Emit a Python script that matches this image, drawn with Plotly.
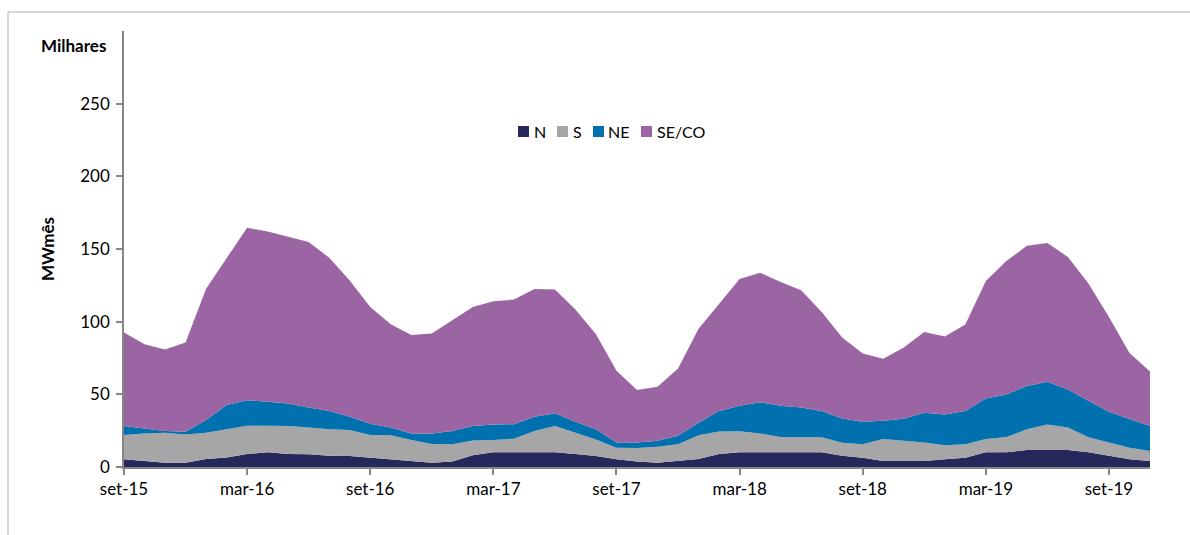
import plotly.graph_objects as go

# Monthly labels, set-15 .. nov-19
months = [
    "set-15", "out-15", "nov-15", "dez-15",
    "jan-16", "fev-16", "mar-16", "abr-16", "mai-16", "jun-16",
    "jul-16", "ago-16", "set-16", "out-16", "nov-16", "dez-16",
    "jan-17", "fev-17", "mar-17", "abr-17", "mai-17", "jun-17",
    "jul-17", "ago-17", "set-17", "out-17", "nov-17", "dez-17",
    "jan-18", "fev-18", "mar-18", "abr-18", "mai-18", "jun-18",
    "jul-18", "ago-18", "set-18", "out-18", "nov-18", "dez-18",
    "jan-19", "fev-19", "mar-19", "abr-19", "mai-19", "jun-19",
    "jul-19", "ago-19", "set-19", "out-19", "nov-19",
]
tick_labels = ["set-15", "mar-16", "set-16", "mar-17", "set-17",
               "mar-18", "set-18", "mar-19", "set-19"]
y_ticks = [0, 50, 100, 150, 200, 250]

# Values in thousands of MWmês, per subsystem
n_vals = [5.3, 4.1, 3.0, 3.0, 5.5, 6.6, 8.9, 10.1, 8.9, 8.7,
          7.7, 7.6, 6.4, 5.3, 4.1, 3.0, 3.7, 8.0, 10.1, 10.1,
          10.1, 10.1, 8.9, 7.6, 5.3, 3.7, 3.0, 4.1, 5.5, 8.9,
          10.1, 10.1, 10.1, 10.1, 10.1, 7.8, 6.4, 4.1, 4.1, 4.1,
          5.3, 6.4, 10.1, 10.1, 11.7, 11.7, 11.7, 10.1, 7.8, 5.3,
          4.1]
s_vals = [16.7, 19.0, 20.6, 19.4, 18.1, 19.3, 19.5, 18.3, 19.3, 18.5,
          18.3, 17.8, 15.6, 16.5, 14.4, 12.8, 11.9, 10.3, 8.4, 9.4,
          14.7, 18.1, 14.7, 11.4, 8.0, 9.4, 11.0, 11.5, 16.3, 15.6,
          14.5, 13.0, 10.5, 10.5, 10.3, 8.9, 9.2, 15.1, 14.0, 12.8,
          9.6, 9.2, 9.1, 10.5, 14.2, 17.6, 15.5, 10.3, 9.1, 8.0,
          6.9]
ne_vals = [6.2, 3.5, 1.1, 1.9, 8.7, 16.7, 17.6, 16.5, 15.5, 13.8,
           12.5, 9.2, 7.8, 5.4, 4.6, 7.3, 9.1, 9.9, 10.8, 10.0,
           9.8, 8.7, 7.5, 6.9, 3.6, 3.8, 4.1, 5.9, 8.6, 14.0,
           17.5, 21.5, 21.5, 20.4, 18.1, 16.7, 15.5, 12.6, 15.1, 20.4,
           21.3, 22.9, 28.0, 29.3, 29.9, 29.3, 26.2, 25.1, 21.1, 19.7,
           17.2]
seco_vals = [64.3, 57.9, 56.1, 61.3, 90.4, 100.7, 118.6, 117.1, 114.5, 113.8,
             105.5, 93.8, 80.3, 71.0, 67.8, 68.7, 76.3, 81.9, 84.7, 85.7,
             87.9, 85.3, 77.2, 65.4, 49.3, 36.0, 37.1, 46.3, 64.8, 73.9,
             87.3, 89.1, 85.2, 80.6, 68.2, 55.7, 47.0, 42.6, 49.0, 55.6,
             53.6, 59.5, 80.8, 91.8, 96.4, 95.5, 91.1, 80.7, 65.2, 45.5,
             37.5]

series_names = ["N", "S", "NE", "SE/CO"]
series_values = [n_vals, s_vals, ne_vals, seco_vals]
series_colors = ["#26275a", "#a6a6a6", "#0071ae", "#9b65a3"]

FONT = "Lato, 'Open Sans', sans-serif"
W, H = 1190, 535
L, R, T, B = 124, 40, 31, 68
PW, PH = W - L - R, H - T - B


def px_x(px):
    return (px - L) / PW


def px_y(py):
    return (H - B - py) / PH


x = list(range(len(months)))

fig = go.Figure()
for name, vals, color in zip(series_names, series_values, series_colors):
    fig.add_trace(go.Scatter(
        x=x, y=vals, name=name, mode="lines",
        stackgroup="one", line=dict(width=0, color=color),
        fillcolor=color, showlegend=False,
        hovertemplate="%{text}: %{y}<extra>" + name + "</extra>",
        text=months,
    ))

# Legend: small coloured squares followed by the series names
legend_sq_left = [518, 557, 593, 641]
legend_txt_left = [532, 571, 606, 655]
legend_cy = 131.5
sq = 11
for name, color, sx, tx in zip(series_names, series_colors,
                               legend_sq_left, legend_txt_left):
    fig.add_shape(type="rect", xref="paper", yref="paper",
                  x0=px_x(sx), x1=px_x(sx + sq),
                  y0=px_y(legend_cy + sq / 2), y1=px_y(legend_cy - sq / 2),
                  fillcolor=color, line=dict(width=0))
    fig.add_annotation(text=name, xref="paper", yref="paper",
                       x=px_x(tx), y=px_y(legend_cy), xanchor="left",
                       yanchor="middle", showarrow=False,
                       font=dict(family=FONT, size=16, color="#000000"))

# Axis captions
fig.add_annotation(text="<b>Milhares</b>", xref="paper", yref="paper",
                   x=px_x(108), y=px_y(46), xanchor="right", yanchor="middle",
                   showarrow=False,
                   font=dict(family=FONT, size=17, color="#000000"))
fig.add_annotation(text="<b>MWmês</b>", xref="paper", yref="paper",
                   x=px_x(47), y=px_y(249), xanchor="center", yanchor="middle",
                   textangle=-90, showarrow=False,
                   font=dict(family=FONT, size=17, color="#000000"))

# Chart-area frame
fig.add_shape(type="rect", xref="paper", yref="paper", layer="below",
              x0=px_x(8), x1=px_x(W + 10), y0=px_y(H + 10), y1=px_y(12),
              line=dict(color="#cccccc", width=1.5), fillcolor="rgba(0,0,0,0)")

axis_color = "#868686"
fig.update_layout(
    width=W, height=H,
    margin=dict(l=L, r=R, t=T, b=B, pad=0),
    paper_bgcolor="white", plot_bgcolor="white",
    font=dict(family=FONT, size=17, color="#000000"),
    xaxis=dict(
        range=[0, len(months) - 1],
        tickvals=[months.index(t) for t in tick_labels],
        ticktext=tick_labels,
        showgrid=False, zeroline=False,
        showline=True, linecolor=axis_color, linewidth=1.5,
        ticks="outside", ticklen=6, tickcolor=axis_color, tickwidth=1.5,
        tickfont=dict(family=FONT, size=17, color="#000000"),
        fixedrange=True,
    ),
    yaxis=dict(
        range=[0, 300],
        tickvals=y_ticks,
        showgrid=False, zeroline=False,
        showline=True, linecolor=axis_color, linewidth=1.5,
        ticks="outside", ticklen=6, tickcolor=axis_color, tickwidth=1.5,
        tickfont=dict(family=FONT, size=17, color="#000000"),
        ticklabelstandoff=3,
        fixedrange=True,
    ),
    showlegend=False,
)

fig.write_html("out.html")
